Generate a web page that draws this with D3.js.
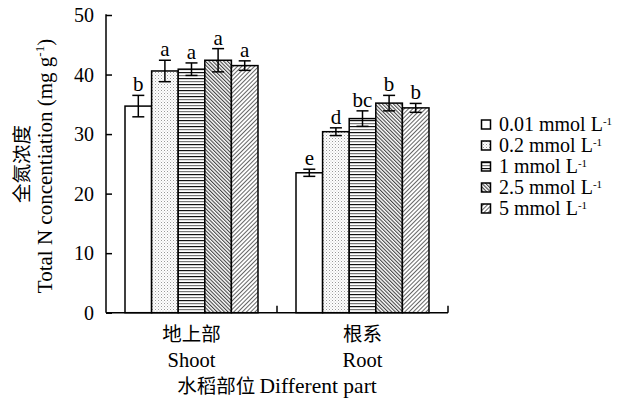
<!DOCTYPE html>
<html><head><meta charset="utf-8">
<script src="https://cdn.jsdelivr.net/npm/d3@7"></script>
<style>body{margin:0;background:#fff}text{font-family:"Liberation Serif","Times New Roman",serif;fill:#000}</style>
</head><body><svg id="c" width="627" height="405"></svg>
<script>
const parts = ["地上部", "根系"];
const partsEn = ["Shoot", "Root"];
const series = ["0.01 mmol L", "0.2 mmol L", "1 mmol L", "2.5 mmol L", "5 mmol L"];
const shootValues = [34.7, 40.6, 40.9, 42.4, 41.5];
const shootErrors = [1.8, 1.8, 1.05, 1.95, 0.8];
const shootLetters = ["b", "a", "a", "a", "a"];
const rootValues = [23.5, 30.4, 32.6, 35.2, 34.4];
const rootErrors = [0.6, 0.65, 1.3, 1.3, 0.75];
const rootLetters = ["e", "d", "bc", "b", "b"];
const yTicks = [0, 10, 20, 30, 40, 50];

const CJK = "'Noto Sans CJK SC','Noto Sans CJK JP',serif";
const svg = d3.select("#c");
const defs = svg.append("defs");
// patterns
const p1 = defs.append("pattern").attr("id","p1").attr("patternUnits","userSpaceOnUse").attr("width",3).attr("height",3);
p1.append("rect").attr("width",3).attr("height",3).attr("fill","#fff");
p1.append("rect").attr("x",0).attr("y",0).attr("width",1).attr("height",1).attr("fill","#999");
p1.append("rect").attr("x",1.5).attr("y",1.5).attr("width",1).attr("height",1).attr("fill","#c4c4c4");
const p2 = defs.append("pattern").attr("id","p2").attr("patternUnits","userSpaceOnUse").attr("width",6).attr("height",6);
p2.append("rect").attr("width",6).attr("height",6).attr("fill","#fff");
p2.append("rect").attr("y",0).attr("width",6).attr("height",1.2).attr("fill","#111");
p2.append("rect").attr("y",3).attr("width",6).attr("height",1.2).attr("fill","#777");
const p3 = defs.append("pattern").attr("id","p3").attr("patternUnits","userSpaceOnUse").attr("width",2.6).attr("height",2.6).attr("patternTransform","rotate(-45)");
p3.append("rect").attr("width",2.6).attr("height",2.6).attr("fill","#fff");
p3.append("rect").attr("width",1.1).attr("height",2.6).attr("fill","#444");
const p4 = defs.append("pattern").attr("id","p4").attr("patternUnits","userSpaceOnUse").attr("width",3).attr("height",3).attr("patternTransform","rotate(45)");
p4.append("rect").attr("width",3).attr("height",3).attr("fill","#fff");
p4.append("rect").attr("width",1).attr("height",3).attr("fill","#666");
const fills = ["#fff","url(#p1)","url(#p2)","url(#p3)","url(#p4)"];

const m = {l:106, r:448, t:15, b:312.7};
const x0 = d3.scaleBand().domain(parts).range([m.l, m.r]).paddingInner(0).paddingOuter(0);
const x1 = d3.scaleBand().domain(series).range([0, 133]);
const y = d3.scaleLinear().domain([0,50]).range([m.b, m.t]);

const data = [
  {part: parts[0], vals: shootValues, errs: shootErrors, lets: shootLetters},
  {part: parts[1], vals: rootValues, errs: rootErrors, lets: rootLetters}
];

data.forEach(d => {
  const gx = x0(d.part) + (x0.bandwidth() - 133)/2;
  const g = svg.append("g").attr("transform",`translate(${gx},0)`);
  series.forEach((s,i) => {
    const bx = x1(s), bw = x1.bandwidth();
    g.append("rect").attr("x",bx).attr("y",y(d.vals[i])).attr("width",bw).attr("height",y(0)-y(d.vals[i]))
      .attr("fill",fills[i]).attr("stroke","#000").attr("stroke-width",1.5);
    const cx = bx + bw/2;
    const hi = y(d.vals[i]+d.errs[i]), lo = y(d.vals[i]-d.errs[i]);
    g.append("line").attr("x1",cx).attr("x2",cx).attr("y1",hi).attr("y2",lo).attr("stroke","#000").attr("stroke-width",1.5);
    [hi,lo].forEach(yy => g.append("line").attr("x1",cx-6).attr("x2",cx+6).attr("y1",yy).attr("y2",yy).attr("stroke","#000").attr("stroke-width",1.5));
    g.append("text").attr("x",cx).attr("y",hi-4).attr("text-anchor","middle").attr("font-size",21).text(d.lets[i]);
  });
});

// y axis
const ya = svg.append("g").attr("transform",`translate(${m.l},0)`)
  .call(d3.axisRight(y).tickValues(yTicks).tickSize(6).tickFormat(""));
ya.select(".domain").remove();
ya.selectAll("line").attr("stroke","#000").attr("stroke-width",1.5);
svg.append("line").attr("x1",m.l).attr("x2",m.l).attr("y1",m.t-0.7).attr("y2",m.b).attr("stroke","#000").attr("stroke-width",1.5);
yTicks.forEach(t => svg.append("text").attr("x",m.l-12).attr("y",y(t)+7).attr("text-anchor","end").attr("font-size",20).text(t));

// x axis
svg.append("line").attr("x1",m.l).attr("x2",m.r).attr("y1",m.b).attr("y2",m.b).attr("stroke","#000").attr("stroke-width",1.5);
[x0(parts[1]), m.r].forEach(xx => svg.append("line").attr("x1",xx).attr("x2",xx).attr("y1",m.b).attr("y2",m.b-7).attr("stroke","#000").attr("stroke-width",1.5));
parts.forEach((p,i) => {
  const cx = x0(p) + x0.bandwidth()/2;
  svg.append("text").attr("x",cx).attr("y",341).attr("text-anchor","middle").attr("font-size",19.5).style("font-family",CJK).text(p);
  svg.append("text").attr("x",cx).attr("y",367).attr("text-anchor","middle").attr("font-size",20.5).text(partsEn[i]);
});
const xt = svg.append("text").attr("x",(m.l+m.r)/2).attr("y",392.5).attr("text-anchor","middle").attr("font-size",21.5);
xt.append("tspan").style("font-family",CJK).attr("font-size",19.5).text("水稻部位 ");
xt.append("tspan").text("Different part");

// y title
const yt = svg.append("text").attr("transform","translate(52,166) rotate(-90)").attr("text-anchor","middle").attr("font-size",21);
yt.append("tspan").text("Total N concentiation (mg g");
yt.append("tspan").attr("dy",-8).attr("font-size",13).text("-1");
yt.append("tspan").attr("dy",8).text(")");
svg.append("text").attr("transform","translate(29,164) rotate(-90)").attr("text-anchor","middle").attr("font-size",19.5).style("font-family",CJK).text("全氮浓度");

// legend
series.forEach((s,i) => {
  const ly = 124.5 + i*21;
  svg.append("rect").attr("x",481.5).attr("y",ly-4.5).attr("width",9).attr("height",9).attr("fill",fills[i]).attr("stroke","#000").attr("stroke-width",1.5);
  const t = svg.append("text").attr("x",499).attr("y",ly+6).attr("font-size",20);
  t.append("tspan").text(s);
  t.append("tspan").attr("dy",-6).attr("font-size",11).text("-1");
});
</script></body></html>
